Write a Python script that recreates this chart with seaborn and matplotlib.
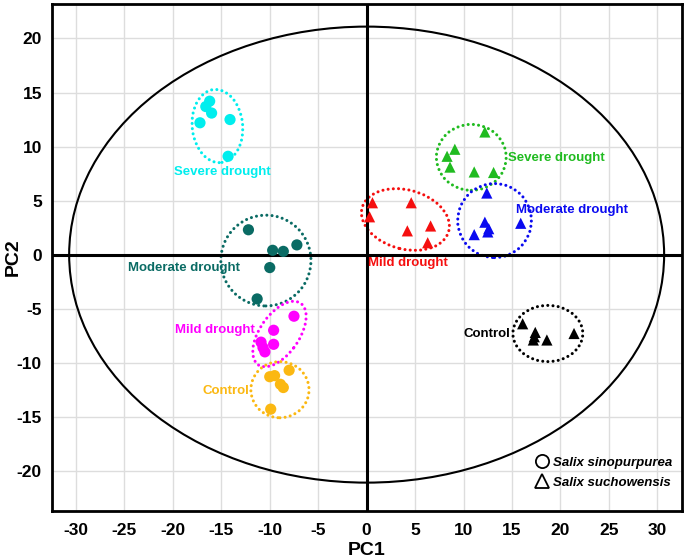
import pandas as pd
import seaborn as sns
import matplotlib.pyplot as plt
from matplotlib.patches import Ellipse
from matplotlib.lines import Line2D

# PCA scores (6 replicates per group)
sino_severe_x = [-16.2, -16.6, -16.0, -17.2, -14.1, -14.3]
sino_severe_y = [14.2, 13.7, 13.1, 12.2, 12.5, 9.1]
sino_moderate_x = [-12.2, -9.7, -8.6, -7.2, -10.0, -11.3]
sino_moderate_y = [2.3, 0.4, 0.3, 0.9, -1.2, -4.1]
sino_mild_x = [-7.5, -9.6, -10.9, -9.6, -10.5, -10.7]
sino_mild_y = [-5.7, -7.0, -8.1, -8.3, -9.0, -8.6]
sino_control_x = [-8.0, -10.0, -9.5, -8.9, -8.6, -9.9]
sino_control_y = [-10.7, -11.3, -11.2, -12.0, -12.3, -14.3]
such_severe_x = [12.2, 9.1, 8.3, 8.6, 11.1, 13.1]
such_severe_y = [11.35, 9.75, 9.1, 8.1, 7.65, 7.6]
such_moderate_x = [12.4, 12.2, 12.5, 11.1, 15.9, 12.6]
such_moderate_y = [5.7, 3.0, 2.1, 1.85, 2.9, 2.4]
such_mild_x = [0.6, 4.6, 0.3, 6.6, 4.2, 6.3]
such_mild_y = [4.8, 4.8, 3.5, 2.65, 2.2, 1.1]
such_control_x = [16.1, 17.4, 17.2, 18.6, 21.4, 17.3]
such_control_y = [-6.4, -7.2, -7.9, -7.9, -7.3, -7.6]

group_keys = ["sino_severe", "sino_moderate", "sino_mild", "sino_control",
              "such_severe", "such_moderate", "such_mild", "such_control"]
group_labels = ["Severe drought", "Moderate drought", "Mild drought", "Control",
                "Severe drought", "Moderate drought", "Mild drought", "Control"]
species_names = ["Salix sinopurpurea", "Salix suchowensis"]

# group ellipses (centre, width, height, angle) and label anchors
ell_cx = [-15.4, -10.4, -9.0, -8.95, 10.8, 13.2, 4.0, 18.7]
ell_cy = [11.9, -0.55, -7.35, -12.5, 9.0, 3.15, 3.25, -7.3]
ell_w = [5.2, 9.3, 7.2, 6.0, 7.2, 7.6, 9.2, 7.2]
ell_h = [6.8, 8.4, 3.9, 5.2, 6.1, 6.85, 5.5, 5.2]
ell_ang = [8, 0, 50, 0, 0, 0, -12, 0]
lab_x = [-14.9, -18.9, -15.7, -14.5, 19.6, 21.2, 4.3, 12.4]
lab_y = [7.6, -1.2, -7.0, -12.6, 8.9, 4.1, -0.8, -7.3]

colors = ["#00eeee", "#0a6b64", "#ff00ff", "#fbb812",
          "#20bb20", "#0a0af0", "#f50f0f", "#000000"]

xs = [sino_severe_x, sino_moderate_x, sino_mild_x, sino_control_x,
      such_severe_x, such_moderate_x, such_mild_x, such_control_x]
ys = [sino_severe_y, sino_moderate_y, sino_mild_y, sino_control_y,
      such_severe_y, such_moderate_y, such_mild_y, such_control_y]

rows = []
for i, key in enumerate(group_keys):
    sp = species_names[0] if key.startswith("sino") else species_names[1]
    for x, y in zip(xs[i], ys[i]):
        rows.append({"PC1": x, "PC2": y, "group": key, "species": sp})
df = pd.DataFrame(rows)

sns.set_style("white")
plt.rcParams['font.family'] = ['Liberation Sans', 'DejaVu Sans']
plt.rcParams['axes.unicode_minus'] = False
plt.rcParams['text.color'] = 'black'
plt.rcParams['axes.labelcolor'] = 'black'
plt.rcParams['xtick.color'] = 'black'
plt.rcParams['ytick.color'] = 'black'

fig = plt.figure(figsize=(6.85, 5.6), dpi=100)
ax = fig.add_axes([0.0755, 0.088, 0.9195, 0.905])

sns.scatterplot(data=df, x="PC1", y="PC2", hue="group", style="species",
                palette=dict(zip(group_keys, colors)),
                markers={species_names[0]: "o", species_names[1]: "^"},
                s=65, linewidth=0, legend=False, ax=ax, zorder=4)

# overall confidence ellipse
ax.add_patch(Ellipse((0, 0), 61.4, 42.2, fill=False, edgecolor="black", lw=1.5, zorder=2))

for i in range(len(group_keys)):
    ax.add_patch(Ellipse((ell_cx[i], ell_cy[i]), ell_w[i], ell_h[i], angle=ell_ang[i],
                         fill=False, edgecolor=colors[i], lw=2.2, linestyle=(0, (0.01, 1.7)),
                         capstyle="round", zorder=3))
    ax.text(lab_x[i], lab_y[i], group_labels[i], color=colors[i], fontsize=9.5,
            fontweight="bold", ha="center", va="center", zorder=5)

ax.axhline(0, color="black", lw=2.2, zorder=3)
ax.axvline(0, color="black", lw=2.2, zorder=3)

ax.set_xlim(-32.5, 32.5)
ax.set_ylim(-23.7, 23.2)
ax.set_xticks(range(-30, 31, 5))
ax.set_yticks(range(-20, 21, 5))
ax.grid(True, color="#dddddd", lw=1)
ax.set_axisbelow(True)
ax.tick_params(axis="x", length=0, labelsize=12.5, pad=9, labelcolor="black")
ax.tick_params(axis="y", length=0, labelsize=12.5, pad=7, labelcolor="black")
for lab in ax.get_xticklabels() + ax.get_yticklabels():
    lab.set_fontweight("bold")
for sp in ax.spines.values():
    sp.set_color("black")
    sp.set_linewidth(2)

ax.set_xlabel("PC1", fontsize=14, fontweight="bold", labelpad=3, color="black")
ax.set_ylabel("PC2", fontsize=14, fontweight="bold", color="black")
ax.yaxis.set_label_coords(-0.047, 0.5)

handles = [Line2D([], [], marker="o", color="black", markerfacecolor="none", linestyle="",
                  markersize=9.5, markeredgewidth=1.3, label=species_names[0]),
           Line2D([], [], marker="^", color="black", markerfacecolor="none", linestyle="",
                  markersize=10.5, markeredgewidth=1.3, label=species_names[1])]
leg = ax.legend(handles=handles, loc="lower right", bbox_to_anchor=(1.0, 0.025), frameon=False,
                prop={"style": "italic", "weight": "bold", "size": 9.5},
                handletextpad=0.35, handlelength=1.0, labelspacing=0.6, borderaxespad=0.3)
for t in leg.get_texts():
    t.set_color("black")

fig.savefig("out.png", dpi=100)
